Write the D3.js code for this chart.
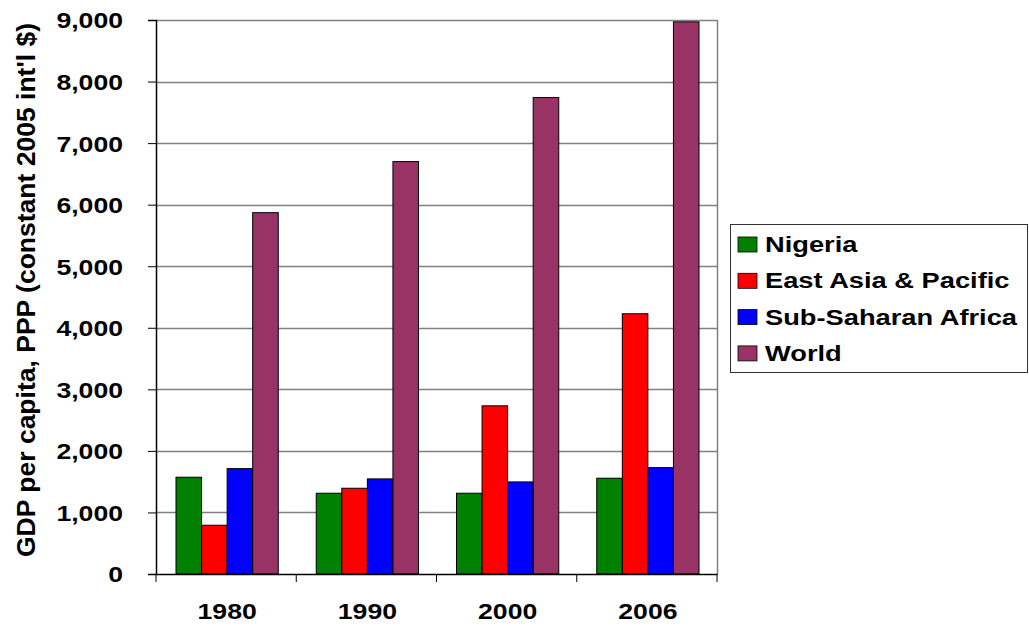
<!DOCTYPE html>
<html>
<head>
<meta charset="utf-8">
<script src="https://cdn.jsdelivr.net/npm/d3@7"></script>
<style>
  body { margin: 0; background: #fff; }
  text { font-family: "Liberation Sans", Arial, sans-serif; font-weight: bold; }
</style>
</head>
<body>
<script>
// chart data
var years = ["1980", "1990", "2000", "2006"];
var seriesNames = ["Nigeria", "East Asia & Pacific", "Sub-Saharan Africa", "World"];
var nigeria = [1572, 1312, 1312, 1556];
var eastAsia = [792, 1393, 2732, 4228];
var subSaharan = [1712, 1545, 1496, 1728];
var world = [5870, 6700, 7740, 8970];
var yTicks = [0, 1000, 2000, 3000, 4000, 5000, 6000, 7000, 8000, 9000];

var colors = ["#008000", "#ff0000", "#0000ff", "#993366"];
var allSeries = [nigeria, eastAsia, subSaharan, world];

var svgWidth = 1029;
var svgHeight = 627;

var margin = { top: 20, left: 156 };
var width = 717 - 156;
var height = 574 - 20;

// the original text is drawn wide
var stretch = "scale(1.21,1)";

var svg = d3.select("body")
  .append("svg")
  .attr("width", svgWidth)
  .attr("height", svgHeight);

var chartGroup = svg.append("g")
  .attr("transform", `translate(${margin.left}, ${margin.top})`);

var xScale = d3.scaleBand()
  .domain(years)
  .range([0, width]);

var yScale = d3.scaleLinear()
  .domain([0, 9000])
  .range([height, 0]);

var xInner = d3.scaleBand()
  .domain(d3.range(seriesNames.length))
  .range([20, xScale.bandwidth() - 18]);

// gridlines
chartGroup.append("g")
  .selectAll("line")
  .data(yTicks.filter(d => d > 0))
  .enter()
  .append("line")
  .attr("x1", 0)
  .attr("x2", width)
  .attr("y1", d => Math.round(yScale(d)) + 0.5)
  .attr("y2", d => Math.round(yScale(d)) + 0.5)
  .attr("stroke", "#808080")
  .attr("stroke-width", 1.5);

// right border of plot area
chartGroup.append("line")
  .attr("x1", width + 0.5).attr("x2", width + 0.5)
  .attr("y1", 0).attr("y2", height)
  .attr("stroke", "#808080")
  .attr("stroke-width", 1.5);

// bars
var rows = years.map(function(y, i) {
  return { year: y, values: allSeries.map(s => s[i]) };
});

var groups = chartGroup.selectAll(".yr")
  .data(rows)
  .enter()
  .append("g")
  .attr("transform", d => `translate(${xScale(d.year)}, 0)`);

groups.selectAll("rect")
  .data(d => d.values)
  .enter()
  .append("rect")
  .attr("x", (d, i) => xInner(i))
  .attr("width", xInner.bandwidth())
  .attr("y", d => yScale(d))
  .attr("height", d => height - yScale(d))
  .attr("fill", (d, i) => colors[i])
  .attr("stroke", "#000")
  .attr("stroke-width", 1);

// left axis
var leftAxis = d3.axisLeft(yScale)
  .tickValues(yTicks)
  .tickFormat(d3.format(","))
  .tickSize(8);

var yAxisG = chartGroup.append("g").call(leftAxis);
yAxisG.select(".domain").attr("stroke-width", 1.5);
yAxisG.selectAll("text")
  .attr("font-size", "22px")
  .attr("fill", "#000")
  .attr("x", 0)
  .attr("dy", "0.36em")
  .attr("transform", "translate(-33,0) " + stretch);

// bottom axis, ticks drawn at category boundaries
var bottomAxis = d3.axisBottom(xScale).tickSize(0);
var xAxisG = chartGroup.append("g")
  .attr("transform", `translate(0, ${height})`)
  .call(bottomAxis);
xAxisG.select(".domain").attr("stroke-width", 1.5);
xAxisG.selectAll("text")
  .attr("font-size", "22px")
  .attr("fill", "#000")
  .attr("y", 0)
  .attr("dy", 0)
  .attr("transform", "translate(1,45) " + stretch);

chartGroup.append("g")
  .attr("transform", `translate(0, ${height})`)
  .selectAll("line")
  .data(years.map(y => xScale(y)).concat([width]))
  .enter()
  .append("line")
  .attr("x1", d => d).attr("x2", d => d)
  .attr("y1", 0).attr("y2", 8)
  .attr("stroke", "#000");

// y axis title
svg.append("text")
  .attr("transform", "translate(35, 290) rotate(-90)")
  .attr("text-anchor", "middle")
  .attr("font-size", "26.5px")
  .text("GDP per capita, PPP (constant 2005 int'l $)");

// legend
var legend = svg.append("g").attr("transform", "translate(730, 224)");
legend.append("rect")
  .attr("x", 0.5).attr("y", 0.5)
  .attr("width", 297).attr("height", 148)
  .attr("fill", "#fff")
  .attr("stroke", "#333")
  .attr("stroke-width", 1);

var items = legend.selectAll(".item")
  .data(seriesNames)
  .enter()
  .append("g")
  .attr("transform", (d, i) => `translate(0, ${19 + i * 36.3})`);

items.append("rect")
  .attr("x", 8).attr("y", -6)
  .attr("width", 19).attr("height", 15)
  .attr("fill", (d, i) => colors[i])
  .attr("stroke", "#000")
  .attr("stroke-width", 0.8);

items.append("text")
  .attr("transform", "translate(35,9) scale(1.24,1)")
  .attr("font-size", "22px")
  .text(d => d);
</script>
</body>
</html>
